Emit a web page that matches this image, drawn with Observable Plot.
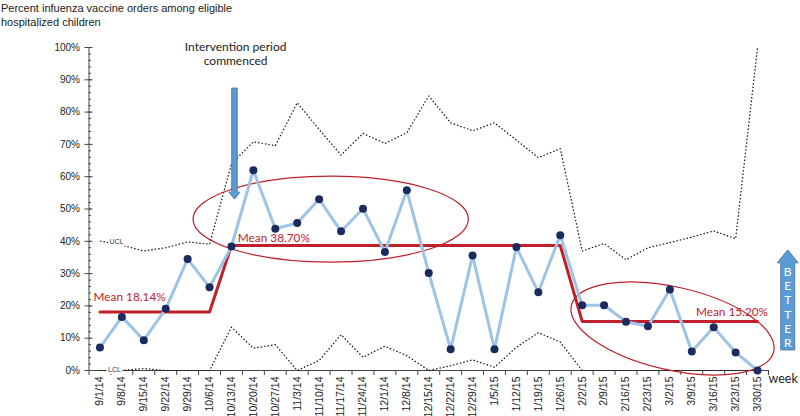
<!DOCTYPE html>
<html><head><meta charset="utf-8">
<script src="https://cdn.jsdelivr.net/npm/d3@7"></script>
<script src="https://cdn.jsdelivr.net/npm/@observablehq/plot@0.6"></script>
<style>
body{margin:0;background:#fff;}
#title{font-family:"Liberation Sans",Arial,sans-serif;font-size:11px;line-height:14px;color:#222;height:30px;box-sizing:border-box;padding:1px 0 0 1px;}
#chart svg{display:block;}
</style></head><body>
<div id="title">Percent infuenza vaccine orders among eligible<br>hospitalized children</div>
<div id="chart"></div>
<script>
// ---- data ----
const weeks = ["9/1/14","9/8/14","9/15/14","9/22/14","9/29/14","10/6/14","10/13/14","10/20/14","10/27/14","11/3/14","11/10/14","11/17/14","11/24/14","12/1/14","12/8/14","12/15/14","12/22/14","12/29/14","1/5/15","1/12/15","1/19/15","1/26/15","2/2/15","2/9/15","2/16/15","2/23/15","3/2/15","3/9/15","3/16/15","3/23/15","3/30/15"];
const rates = [7.1,16.6,9.4,19.1,34.5,25.8,38.4,62.0,43.9,45.7,53.0,43.1,50.1,36.7,55.8,30.2,6.6,35.6,6.6,38.2,24.2,41.9,20.2,20.2,15.1,13.7,25.1,5.9,13.4,5.6,0];
const ucl = [40.1,38.8,37.0,38.0,39.8,39.1,64.0,70.8,69.6,82.9,74.6,66.7,73.4,70.3,73.6,85.0,76.7,74.2,76.7,71.3,65.9,68.7,37.0,39.3,34.3,38.0,39.6,41.3,43.2,40.8,100];
const lcl = [0,0,0.6,0,0,0,13.4,6.9,8.0,0,3.1,11.1,4.1,7.5,4.6,0,1.5,3.3,1.0,7.2,11.7,8.8,0,0,0,0,0,0,0,0,0];
const means = [18.14,18.14,18.14,18.14,18.14,18.14,38.70,38.70,38.70,38.70,38.70,38.70,38.70,38.70,38.70,38.70,38.70,38.70,38.70,38.70,38.70,38.70,15.20,15.20,15.20,15.20,15.20,15.20,15.20,15.20,15.20];
const yTicks = [0,10,20,30,40,50,60,70,80,90,100];
const meanLabels = ["Mean 18.14%","Mean 38.70%","Mean 15.20%"];

// ---- annotation anchors (data units: week index, percent) ----
const meanLabelPos = [{x:-0.29,y:22.6},{x:6.29,y:40.8},{x:27.19,y:18.1}];
const limitLabels = [{x:0.76,y:39.8,text:"UCL"},{x:0.66,y:0.3,text:"LCL"}];
const ellipse1 = {cx:10.55, cy:46.7, rx:6.28, ry:13.3};
const ellipse2 = {x1:21.53, y1:20.0, x2:30.76, y2:5.7, ratio:0.40};
const interventionArrow = {x:6.16, yTop:87.3, yTip:52.9};
const interventionText = {x:6.19, y:98.2, text:"Intervention period\ncommenced"};
const betterArrow = {x:31.4, yTip:37.2, yBottom:6.2, yFirst:30.5, yLast:8.3, text:"BETTER"};

const rows = weeks.map((w,i)=>({i, week:w, rate:rates[i], ucl:ucl[i], lcl:lcl[i], mean:means[i]}));
const red = "#c0202a";
const calibri = "Lato, 'Open Sans', sans-serif";

function annotations(index, scales) {
  const {x, y} = scales;
  const g = d3.create("svg:g");
  const c1x = x(ellipse1.cx), c1y = y(ellipse1.cy);
  g.append("ellipse").attr("cx", c1x).attr("cy", c1y)
    .attr("rx", x(ellipse1.cx + ellipse1.rx) - c1x)
    .attr("ry", y(ellipse1.cy - ellipse1.ry) - c1y)
    .attr("fill","none").attr("stroke", red).attr("stroke-width", 1.2);
  const p1 = [x(ellipse2.x1), y(ellipse2.y1)], p2 = [x(ellipse2.x2), y(ellipse2.y2)];
  const cx = (p1[0]+p2[0])/2, cy = (p1[1]+p2[1])/2;
  const a = Math.hypot(p2[0]-p1[0], p2[1]-p1[1])/2;
  const ang = Math.atan2(p2[1]-p1[1], p2[0]-p1[0])*180/Math.PI;
  g.append("ellipse").attr("cx",cx).attr("cy",cy).attr("rx",a).attr("ry",a*ellipse2.ratio)
    .attr("transform",`rotate(${ang},${cx},${cy})`)
    .attr("fill","none").attr("stroke", red).attr("stroke-width", 1.2);
  return g.node();
}

function arrows(index, scales) {
  const {x, y} = scales;
  const g = d3.create("svg:g");
  {
    const ax = x(interventionArrow.x), top = y(interventionArrow.yTop), tip = y(interventionArrow.yTip);
    const sw = 2.8, hw = 5.5, hl = 7;
    const pts = [[ax-sw,top],[ax+sw,top],[ax+sw,tip-hl],[ax+hw,tip-hl],[ax,tip],[ax-hw,tip-hl],[ax-sw,tip-hl]];
    g.append("path").attr("d", "M" + pts.join("L") + "Z")
      .attr("fill","#5b9bd5").attr("stroke","#41719c").attr("stroke-width",0.8);
  }
  {
    const ax = x(betterArrow.x), tip = y(betterArrow.yTip), bot = y(betterArrow.yBottom);
    const sw = 7, hw = 10.5, hl = 13;
    const pts = [[ax,tip],[ax+hw,tip+hl],[ax+sw,tip+hl],[ax+sw,bot],[ax-sw,bot],[ax-sw,tip+hl],[ax-hw,tip+hl]];
    g.append("path").attr("d", "M" + pts.join("L") + "Z")
      .attr("fill","#5b9bd5").attr("stroke","#41719c").attr("stroke-width",0.8);
    const letters = betterArrow.text.split("");
    const y0 = y(betterArrow.yFirst), y1 = y(betterArrow.yLast);
    letters.forEach((ch, k) => {
      g.append("text").attr("x", ax).attr("y", y0 + (y1-y0)*k/(letters.length-1))
        .attr("dy","0.35em").attr("text-anchor","middle")
        .attr("fill","#fff").attr("font-family", calibri).attr("font-size", 12)
        .text(ch);
    });
  }
  return g.node();
}

const plot = Plot.plot({
  width: 800,
  height: 386,
  marginLeft: 88.5,
  marginRight: 32,
  marginTop: 17,
  marginBottom: 46,
  style: {fontFamily: "'Liberation Sans', Arial, sans-serif", fontSize: "10px", color: "#222", background: "#fff", overflow: "visible"},
  x: {type: "linear", domain: [-0.5, 30.5]},
  y: {type: "linear", domain: [0, 100]},
  marks: [
    Plot.axisY({ticks: yTicks, tickFormat: d => d + "%", tickSize: 4, tickPadding: 5, fontSize: 10, label: null, stroke: "#444"}),
    Plot.axisY({ticks: yTicks, tickFormat: () => "", tickSize: -4, label: null, stroke: "#444"}),
    Plot.axisY({ticks: d3.range(0, 101, 2), tickFormat: () => "", tickSize: -2.5, label: null, stroke: "#444"}),
    Plot.axisX({ticks: d3.range(0, 31), tickFormat: i => weeks[i], tickRotate: -90, tickSize: 0, tickPadding: 6, fontSize: 10.5, label: null}),
    Plot.axisX({ticks: d3.range(-0.5, 31, 1), tickFormat: () => "", tickSize: 5, label: null, stroke: "#444"}),
    Plot.frame({anchor: "left", stroke: "#444"}),
    Plot.frame({anchor: "bottom", stroke: "#444"}),
    Plot.line(rows, {x: "i", y: "ucl", stroke: "#111", strokeWidth: 1.2, strokeDasharray: "1.5,2", strokeLinecap: "butt"}),
    Plot.line(rows, {x: "i", y: "lcl", stroke: "#111", strokeWidth: 1.2, strokeDasharray: "1.5,2", strokeLinecap: "butt"}),
    Plot.text(limitLabels, {x: "x", y: "y", text: "text", fontSize: 7, fill: "#333", stroke: "#fff", strokeWidth: 4}),
    Plot.line(rows, {x: "i", y: "mean", stroke: red, strokeWidth: 3}),
    annotations,
    Plot.line(rows, {x: "i", y: "rate", stroke: "#9dc3e6", strokeWidth: 3}),
    Plot.dot(rows, {x: "i", y: "rate", r: 4, fill: "#1c2b5e"}),
    Plot.text(meanLabelPos, {x: "x", y: "y", text: (d, k) => meanLabels[k], textAnchor: "start", fill: red, fontSize: 11.8, fontFamily: calibri}),
    Plot.text([interventionText], {x: "x", y: "y", text: "text", fill: "#222", fontSize: 12, fontFamily: calibri, lineHeight: 1.2}),
    arrows,
    Plot.text(["week"], {x: 30.5, y: 0, text: d => d, textAnchor: "start", dx: 0, dy: 8, fontSize: 12.5, fontFamily: calibri, fill: "#222"})
  ]
});
document.getElementById("chart").append(plot);
</script>
</body></html>
